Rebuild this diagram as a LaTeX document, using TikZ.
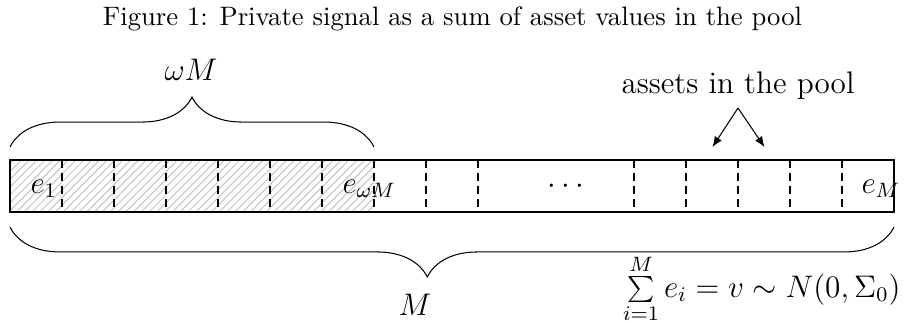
\documentclass[tikz,border=0pt]{standalone}
\usetikzlibrary{patterns,decorations.pathreplacing,arrows.meta}
\begin{document}
\begin{tikzpicture}[x=0.3846pt,y=-0.3846pt,
  lbl/.style={inner sep=0pt,font=\large},
  divider/.style={densely dashed},
  bracedeco/.style={decorate,decoration={brace,amplitude=19.2pt,#1}},
  bracedeco/.default={aspect=0.5},
  pointer/.style={-{Latex[length=4pt,width=3.2pt]}},
  ]
\useasboundingbox (0,0) rectangle (905,322);
% title
\node[anchor=base,inner sep=0pt,font=\fontsize{10.25pt}{12pt}\selectfont] (title) at (452.5,25) {Figure 1: Private signal as a sum of asset values in the pool};
% hatched part and bar
\fill[pattern=north east lines,pattern color=gray!45] (10,160) rectangle (374,212);
\foreach \k in {1,...,9,12,13,14,15,16} \draw[divider] ({10+52*\k},160) -- ({10+52*\k},212);
\draw (10,160) rectangle (894,212);
% cell labels
\node[lbl,anchor=base west] (e1) at (30,193) {$e_1$};
\node[lbl,anchor=base west] (ewm) at (342,193) {$e_{\omega M}$};
\node[lbl,anchor=base] (dots) at (566,193) {$\cdots$};
\node[lbl,anchor=base west] (eM) at (861,193) {$e_M$};
% top brace
\draw[bracedeco] (10,147) -- (374,147);
\node[lbl,anchor=base] (wM) at (191,80) {$\omega M$};
% bottom brace
\draw[bracedeco={aspect=0.528}] (894,227) -- (10,227);
\node[lbl,anchor=base] (M) at (415,315) {$M$};
\node[lbl,anchor=base east] (sum) at (901,297) {$\sum\limits_{i=1}^{M} e_i = v \sim N(0,\Sigma_0)$};
% assets pointer
\node[lbl,anchor=base] (assets) at (738,93) {assets in the pool};
\coordinate (apex) at (738,108);
\coordinate (c1) at (712.5,147);
\coordinate (c2) at (764.5,147);
\draw[pointer] (apex) -- (c1);
\draw[pointer] (apex) -- (c2);
\end{tikzpicture}
\end{document}
